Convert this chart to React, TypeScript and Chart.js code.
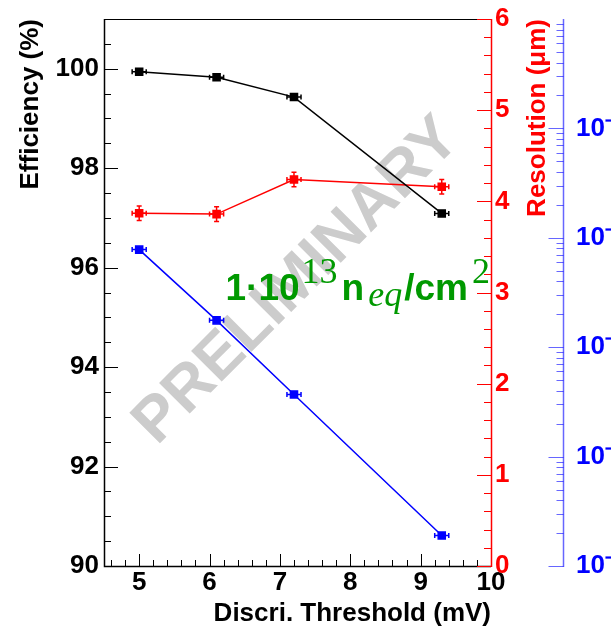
import React, { useEffect, useRef } from "react";
import { Chart, registerables } from "chart.js";

Chart.register(...registerables);

// ---- data ----
const thresholds = [5.0, 6.1, 7.2, 9.3];
const thresholdErrors = [0.1, 0.1, 0.1, 0.1];
const efficiency = [99.94, 99.83, 99.43, 97.09];
const resolution = [3.87, 3.86, 4.24, 4.16];
const resolutionErrors = [0.08, 0.08, 0.08, 0.08];
const fakeHitRate = [7.8e-7, 1.76e-7, 3.7e-8, 1.9e-9];

const xTickValues = [5, 6, 7, 8, 9, 10];
const efficiencyTickValues = [90, 92, 94, 96, 98, 100];
const resolutionTickValues = [0, 1, 2, 3, 4, 5, 6];
const rateTickValues = [1e-9, 1e-8, 1e-7, 1e-6, 1e-5];

const xTitle = "Discri. Threshold (mV)";
const efficiencyTitle = "Efficiency (%)";
const resolutionTitle = "Resolution (\u03bcm)";
const watermarkText = "PRELIMINARY";

const SANS = "'Liberation Sans', Arial, sans-serif";
const SERIF = "'Liberation Serif', 'Times New Roman', serif";
const GREEN = "#009900";
const BLUE_AXIS = "rgba(0,0,255,0.6)";

const SUP: Record<string, string> = {
  "-": "\u207b", "0": "\u2070", "1": "\u00b9", "2": "\u00b2", "3": "\u00b3",
  "4": "\u2074", "5": "\u2075", "6": "\u2076", "7": "\u2077", "8": "\u2078", "9": "\u2079",
};
const sup = (s: string) => s.split("").map((c) => SUP[c] ?? c).join("");

const tickFont = { family: SANS, size: 26, weight: "bold" as const, lineHeight: 1.2 };

function rangeStep(a: number, b: number, step: number, skip: number[]) {
  const out: number[] = [];
  const n = Math.round((b - a) / step);
  for (let i = 0; i <= n; i++) {
    const v = +(a + i * step).toFixed(6);
    if (!skip.some((s) => Math.abs(s - v) < 1e-9)) out.push(v);
  }
  return out;
}

const noPad = (s: any) => {
  s.paddingTop = 0;
  s.paddingBottom = 0;
  s.paddingLeft = 0;
  s.paddingRight = 0;
};

const rootPlugin = {
  id: "rootStyle",
  beforeDatasetsDraw(chart: any) {
    const { ctx, chartArea } = chart;
    const cx = chartArea.left + (chartArea.right - chartArea.left) * 0.49;
    const cy = chartArea.top + (chartArea.bottom - chartArea.top) * 0.473;
    const size = 63;
    ctx.save();
    ctx.translate(cx, cy);
    ctx.rotate(-Math.PI / 4);
    ctx.font = `bold ${size}px ${SANS}`;
    ctx.fillStyle = "#cccccc";
    ctx.textAlign = "center";
    ctx.textBaseline = "alphabetic";
    ctx.fillText(watermarkText, 0, size * 0.358);
    ctx.restore();
  },
  afterDatasetsDraw(chart: any) {
    const { ctx } = chart;
    chart.data.datasets.forEach((ds: any, i: number) => {
      const meta = chart.getDatasetMeta(i);
      const xs = chart.scales[meta.xAxisID];
      const ys = chart.scales[meta.yAxisID];
      ctx.save();
      ctx.strokeStyle = ds.borderColor;
      ctx.lineWidth = 1.5;
      const cap = 2.5;
      ds.data.forEach((p: any, j: number) => {
        const px = xs.getPixelForValue(p.x);
        const py = ys.getPixelForValue(p.y);
        const ex = ds.xErr ? ds.xErr[j] : 0;
        const ey = ds.yErr ? ds.yErr[j] : 0;
        ctx.beginPath();
        if (ex) {
          const x1 = xs.getPixelForValue(p.x - ex);
          const x2 = xs.getPixelForValue(p.x + ex);
          ctx.moveTo(x1, py); ctx.lineTo(x2, py);
          ctx.moveTo(x1, py - cap); ctx.lineTo(x1, py + cap);
          ctx.moveTo(x2, py - cap); ctx.lineTo(x2, py + cap);
        }
        if (ey) {
          const y1 = ys.getPixelForValue(p.y - ey);
          const y2 = ys.getPixelForValue(p.y + ey);
          ctx.moveTo(px, y1); ctx.lineTo(px, y2);
          ctx.moveTo(px - cap, y1); ctx.lineTo(px + cap, y1);
          ctx.moveTo(px - cap, y2); ctx.lineTo(px + cap, y2);
        }
        ctx.stroke();
      });
      ctx.restore();
    });
  },
  afterDraw(chart: any) {
    const { ctx, chartArea, scales } = chart;
    const { left, right, top, bottom } = chartArea;
    const sx = scales.x, se = scales.yEff, sr = scales.yRes, sl = scales.yRate;
    ctx.save();

    const hTick = (scale: any, vals: number[], x0: number, len: number, color: string) => {
      ctx.strokeStyle = color;
      ctx.lineWidth = 1;
      ctx.beginPath();
      vals.forEach((v) => {
        const y = Math.round(scale.getPixelForValue(v)) + 0.5;
        ctx.moveTo(x0, y); ctx.lineTo(x0 + len, y);
      });
      ctx.stroke();
    };

    // frame (top + left + bottom) in black
    ctx.strokeStyle = "#000";
    ctx.lineWidth = 1;
    ctx.beginPath();
    ctx.moveTo(left, top + 0.5); ctx.lineTo(right, top + 0.5);
    ctx.stroke();
    ctx.lineWidth = 1.5;
    ctx.beginPath();
    ctx.moveTo(left + 0.5, top); ctx.lineTo(left + 0.5, bottom + 0.5); ctx.lineTo(right, bottom + 0.5);
    ctx.stroke();

    // efficiency axis ticks (inward)
    hTick(se, efficiencyTickValues, left, 14, "#000");
    hTick(se, rangeStep(90, 101, 0.5, efficiencyTickValues), left, 7, "#000");

    // x axis ticks (upward)
    ctx.strokeStyle = "#000";
    ctx.lineWidth = 1;
    ctx.beginPath();
    xTickValues.forEach((v) => {
      const x = Math.round(sx.getPixelForValue(v)) + 0.5;
      ctx.moveTo(x, bottom); ctx.lineTo(x, bottom - 12);
    });
    rangeStep(4.6, 9.8, 0.2, xTickValues).forEach((v) => {
      const x = Math.round(sx.getPixelForValue(v)) + 0.5;
      ctx.moveTo(x, bottom); ctx.lineTo(x, bottom - 6);
    });
    ctx.stroke();

    // resolution axis (red) at the right edge of the frame
    ctx.strokeStyle = "#ff0000";
    ctx.lineWidth = 1.5;
    ctx.beginPath();
    ctx.moveTo(right + 0.5, top); ctx.lineTo(right + 0.5, bottom + 1);
    ctx.stroke();
    hTick(sr, resolutionTickValues, right, -14, "#ff0000");
    hTick(sr, rangeStep(0, 6, 0.2, resolutionTickValues), right, -7, "#ff0000");

    // red axis title, reading upwards, ending at the top
    ctx.save();
    ctx.translate(right + 54, top);
    ctx.rotate(-Math.PI / 2);
    ctx.font = `bold 26px ${SANS}`;
    ctx.fillStyle = "#ff0000";
    ctx.textAlign = "right";
    ctx.textBaseline = "alphabetic";
    ctx.fillText(resolutionTitle, 0, 0);
    ctx.restore();

    // log axis (blue)
    const bx = sl.left + 0.5;
    ctx.strokeStyle = BLUE_AXIS;
    ctx.lineWidth = 1.5;
    ctx.beginPath();
    ctx.moveTo(bx, top); ctx.lineTo(bx, bottom + 1);
    ctx.stroke();
    const rateMajors: number[] = [];
    const rateMinors: number[] = [];
    for (let k = -9; k <= -5; k++) {
      rateMajors.push(Math.pow(10, k));
      for (let m = 2; m <= 9; m++) rateMinors.push(m * Math.pow(10, k));
    }
    hTick(sl, rateMajors, bx, -15, BLUE_AXIS);
    hTick(sl, rateMinors, bx, -7, BLUE_AXIS);

    // fluence label 1·10^13 n_eq/cm^2
    const parts = [
      { t: "1\u00b710", f: `bold 37px ${SANS}`, dy: 0, gap: 0 },
      { t: "13", f: `36px ${SERIF}`, dy: -17, gap: 2 },
      { t: "n", f: `bold 37px ${SANS}`, dy: 0, gap: 4 },
      { t: "eq", f: `italic 36px ${SERIF}`, dy: 6, gap: 4 },
      { t: "/cm", f: `bold 37px ${SANS}`, dy: 0, gap: 2 },
      { t: "2", f: `36px ${SERIF}`, dy: -17, gap: 4 },
    ];
    let x = left + (right - left) * 0.314;
    const baseY = top + (bottom - top) * 0.514;
    ctx.fillStyle = GREEN;
    ctx.textAlign = "left";
    ctx.textBaseline = "alphabetic";
    parts.forEach((p) => {
      ctx.font = p.f;
      x += p.gap;
      ctx.fillText(p.t, x, baseY + p.dy);
      x += ctx.measureText(p.t).width;
    });
    ctx.restore();
  },
};

export default function App() {
  const ref = useRef<HTMLCanvasElement | null>(null);

  useEffect(() => {
    if (!ref.current) return;
    const chart = new Chart(ref.current, {
      type: "line",
      data: {
        datasets: [
          {
            label: "Efficiency",
            data: thresholds.map((x, i) => ({ x, y: efficiency[i] })),
            xErr: thresholdErrors,
            borderColor: "#000000",
            backgroundColor: "#000000",
            borderWidth: 1.5,
            pointStyle: "rect",
            pointRadius: 5,
            pointBorderWidth: 1.5,
            yAxisID: "yEff",
            xAxisID: "x",
          } as any,
          {
            label: "Resolution",
            data: thresholds.map((x, i) => ({ x, y: resolution[i] })),
            xErr: thresholdErrors,
            yErr: resolutionErrors,
            borderColor: "#ff0000",
            backgroundColor: "#ff0000",
            borderWidth: 1.5,
            pointStyle: "rect",
            pointRadius: 5,
            pointBorderWidth: 1.5,
            yAxisID: "yRes",
            xAxisID: "x",
          } as any,
          {
            label: "Rate",
            data: thresholds.map((x, i) => ({ x, y: fakeHitRate[i] })),
            xErr: thresholdErrors,
            borderColor: "#0000ff",
            backgroundColor: "#0000ff",
            borderWidth: 1.5,
            pointStyle: "rect",
            pointRadius: 5,
            pointBorderWidth: 1.5,
            yAxisID: "yRate",
            xAxisID: "x",
          } as any,
        ],
      },
      options: {
        animation: false,
        responsive: false,
        maintainAspectRatio: false,
        layout: { padding: { top: 19, left: 0, right: 0, bottom: 0 } },
        plugins: { legend: { display: false }, tooltip: { enabled: false } },
        scales: {
          x: {
            type: "linear",
            position: "bottom",
            min: 4.5,
            max: 10,
            grid: { display: false, drawTicks: false },
            border: { display: false },
            ticks: { font: tickFont, color: "#000", padding: 1, autoSkip: false, maxRotation: 0, callback: (v: any) => String(v) },
            afterBuildTicks: (s: any) => { s.ticks = xTickValues.map((value) => ({ value })); },
            afterFit: (s: any) => { s.height = 63; noPad(s); },
            title: {
              display: true, text: xTitle, align: "end", color: "#000",
              font: { family: SANS, size: 26, weight: "bold", lineHeight: 1 },
              padding: { top: 0, bottom: 2 },
            },
          },
          yEff: {
            type: "linear",
            position: "left",
            min: 90,
            max: 101,
            grid: { display: false, drawTicks: false },
            border: { display: false },
            ticks: { font: tickFont, color: "#000", padding: 5, autoSkip: false, callback: (v: any) => String(v) },
            afterBuildTicks: (s: any) => { s.ticks = efficiencyTickValues.map((value) => ({ value })); },
            afterFit: (s: any) => { s.width = 104; noPad(s); },
            title: {
              display: true, text: efficiencyTitle, align: "end", color: "#000",
              font: { family: SANS, size: 26, weight: "bold", lineHeight: 1 },
              padding: { top: 17.5, bottom: 0 },
            },
          },
          yRes: {
            type: "linear",
            position: "right",
            min: 0,
            max: 6,
            grid: { display: false, drawTicks: false },
            border: { display: false },
            ticks: { font: tickFont, color: "#ff0000", padding: 4, autoSkip: false, callback: (v: any) => String(v) },
            afterBuildTicks: (s: any) => { s.ticks = resolutionTickValues.map((value) => ({ value })); },
            afterFit: (s: any) => { s.width = 72; noPad(s); },
          },
          yRate: {
            type: "logarithmic",
            position: "right",
            min: 1e-9,
            max: 1e-4,
            grid: { display: false, drawTicks: false },
            border: { display: false },
            ticks: {
              font: tickFont, color: "#0000ff", padding: 13, autoSkip: false,
              callback: (v: any) => "10" + sup(String(Math.round(Math.log10(Number(v))))),
            },
            afterBuildTicks: (s: any) => { s.ticks = rateTickValues.map((value) => ({ value })); },
            afterFit: (s: any) => { s.width = 48; noPad(s); },
          },
        },
      } as any,
      plugins: [rootPlugin],
    });
    return () => chart.destroy();
  }, []);

  return (
    <div style={{ position: "fixed", left: 0, top: 0, width: 611, height: 629, background: "#fff" }}>
      <canvas ref={ref} width={611} height={629} style={{ display: "block" }} />
    </div>
  );
}
